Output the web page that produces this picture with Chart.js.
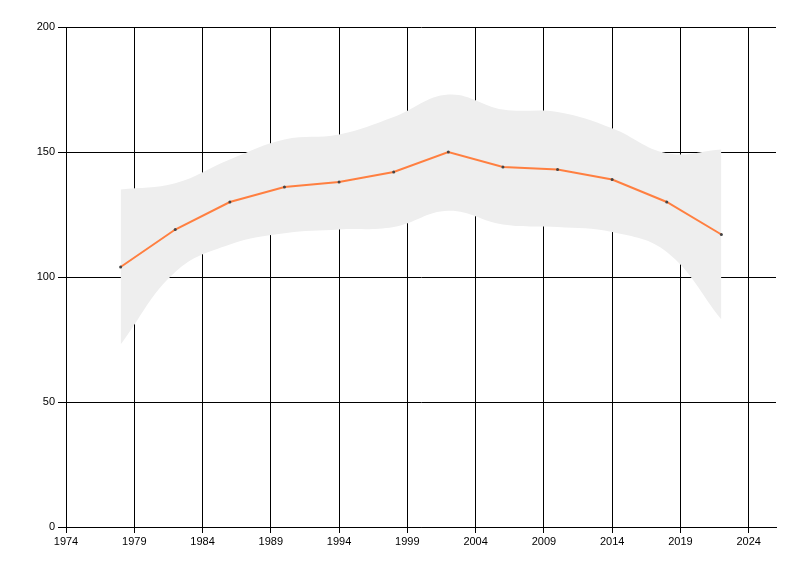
<!DOCTYPE html>
<html>
<head>
<meta charset="utf-8">
<script src="https://cdn.jsdelivr.net/npm/chart.js@4"></script>
<style>
  html, body { margin: 0; padding: 0; background: #fff; }
  #wrap { width: 800px; height: 576px; }
</style>
</head>
<body>
<div id="wrap"><canvas id="chart" width="800" height="576"></canvas></div>
<script>
// --- data ---
const years = [1978, 1982, 1986, 1990, 1994, 1998, 2002, 2006, 2010, 2014, 2018, 2022];
const values = [104, 119, 130, 136, 138, 142, 150, 144, 143, 139, 130, 117];
const upperBand = [135, 137.5, 147, 155, 157, 164, 173, 167, 166, 159.5, 149.5, 151];
const lowerBand = [73, 102, 113, 117.5, 119, 120, 126.5, 121, 120, 118, 110, 83];
const xTicks = [1974, 1979, 1984, 1989, 1994, 1999, 2004, 2009, 2014, 2019, 2024];
const yTicks = [0, 50, 100, 150, 200];

const toPoints = arr => years.map((yr, i) => ({ x: yr, y: arr[i] }));

const tickFont = { family: 'Liberation Sans', size: 11 };

new Chart(document.getElementById('chart'), {
    type: 'line',
    data: {
        datasets: [
            {
                // the band: upper edge filled down to the lower edge
                data: toPoints(upperBand),
                borderWidth: 0,
                borderColor: 'rgba(0,0,0,0)',
                backgroundColor: '#eeeeee',
                pointRadius: 0,
                tension: 0.4,
                fill: '+1',
                order: 2
            },
            {
                data: toPoints(lowerBand),
                borderWidth: 0,
                borderColor: 'rgba(0,0,0,0)',
                pointRadius: 0,
                tension: 0.4,
                fill: false,
                order: 2
            },
            {
                data: toPoints(values),
                borderColor: '#ff7f40',
                borderWidth: 2,
                pointRadius: 1.5,
                pointBorderWidth: 0,
                pointBackgroundColor: '#444',
                tension: 0,
                fill: false,
                order: 1
            }
        ]
    },
    options: {
        responsive: false,
        animation: false,
        events: [],
        layout: { padding: { left: 0, top: 27, right: 24, bottom: 0 } },
        plugins: { legend: { display: false }, tooltip: { enabled: false } },
        scales: {
            x: {
                type: 'linear',
                min: 1974,
                max: 2026,
                afterBuildTicks: s => { s.ticks = xTicks.map(v => ({ value: v })); },
                afterFit: s => { s.height = 49; },
                grid: { color: '#000', lineWidth: 1, tickLength: 6, tickColor: '#000' },
                border: { display: true, color: '#000', width: 1 },
                ticks: { color: '#000', font: tickFont, padding: 2, maxRotation: 0, callback: v => String(v) }
            },
            y: {
                min: 0,
                max: 200,
                afterBuildTicks: s => { s.ticks = yTicks.map(v => ({ value: v })); },
                afterFit: s => { s.width = 66; },
                grid: { color: '#000', lineWidth: 1, tickLength: 8, tickColor: '#000' },
                border: { display: true, color: '#000', width: 1 },
                ticks: { color: '#000', font: tickFont, padding: 3, callback: v => String(v) }
            }
        }
    }
});
</script>
</body>
</html>
